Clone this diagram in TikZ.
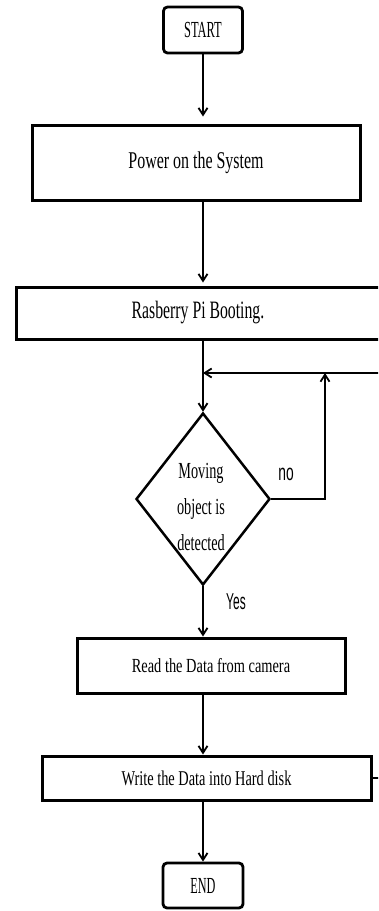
\documentclass[tikz,border=0pt]{standalone}
\usepackage{fontspec}
\setmainfont{Liberation Serif}
\newfontfamily\arialf{Liberation Sans}
\usetikzlibrary{arrows.meta,shapes.geometric}
\newcommand{\hsq}[2]{\scalebox{#1}[1]{#2}}
\begin{document}
\begin{tikzpicture}[x=1pt,y=-1pt,
  box/.style={draw,line width=3pt,rectangle,inner sep=0pt},
  term/.style={box,rounded corners=4pt,line width=2.8pt},
  dec/.style={draw,line width=2.5pt,diamond,inner sep=0pt,minimum width=134pt,minimum height=172pt},
  conn/.style={line width=1.8pt,-{Straight Barb[length=7pt,width=9pt,line width=1.8pt]}},
  lbl/.style={inner sep=0pt}
]
\useasboundingbox (0,0) rectangle (378,911);
\clip (0,0) rectangle (378,911);

\node[term,minimum width=79pt,minimum height=46pt,font=\fontsize{23}{26}\selectfont] (start) at (203,30)
  {\hsq{0.54}{START}};
\node[box,minimum width=328pt,minimum height=75pt,font=\fontsize{24}{28}\selectfont] (power) at (196,162.5)
  {\hsq{0.665}{Power on the System}};
\node[box,minimum width=364pt,minimum height=52pt,font=\fontsize{25}{28}\selectfont] (boot) at (198,313)
  {\hsq{0.63}{Rasberry Pi Booting.}};
\node[dec] (dec) at (203,499) {};
\node[lbl,align=center,font=\fontsize{23}{36}\selectfont] (dectext) at (201,507)
  {\hsq{0.62}{Moving}\\\hsq{0.62}{object is}\\\hsq{0.62}{detected}};
\node[box,minimum width=268pt,minimum height=55pt,font=\fontsize{20}{24}\selectfont] (read) at (211,665.5)
  {\hsq{0.72}{Read the Data from camera}};
\node[box,minimum width=329pt,minimum height=44pt,font=\fontsize{21}{24}\selectfont] (write) at (206.5,778)
  {\hsq{0.685}{Write the Data into Hard disk}};
\node[term,minimum width=80pt,minimum height=45pt,font=\fontsize{23}{26}\selectfont] (end) at (203,885.5)
  {\hsq{0.53}{END}};

\node[lbl,font=\arialf\fontsize{23}{23}\selectfont] (no) at (286,474) {\hsq{0.6}{no}};
\node[lbl,font=\arialf\fontsize{23}{23}\selectfont] (yes) at (236,602) {\hsq{0.52}{Yes}};

\coordinate (merge) at (203,373);
\coordinate (noup) at (325,373);

\draw[conn,shorten >=7pt] (start.south) -- (start.south |- power.north);
\draw[conn,shorten >=3pt] (start.south |- power.south) -- (start.south |- boot.north);
\draw[conn] (start.south |- boot.south) -- (dec.north);
\draw[conn] (write.east) -- ++(20pt,0) |- (merge);
\draw[conn,line width=2.5pt] (dec.east) -| (noup);
\draw[conn] (dec.south) -- (dec.south |- read.north);
\draw[conn] (dec.south |- read.south) -- (dec.south |- write.north);
\draw[conn] (dec.south |- write.south) -- (end.north);
\end{tikzpicture}
\end{document}
